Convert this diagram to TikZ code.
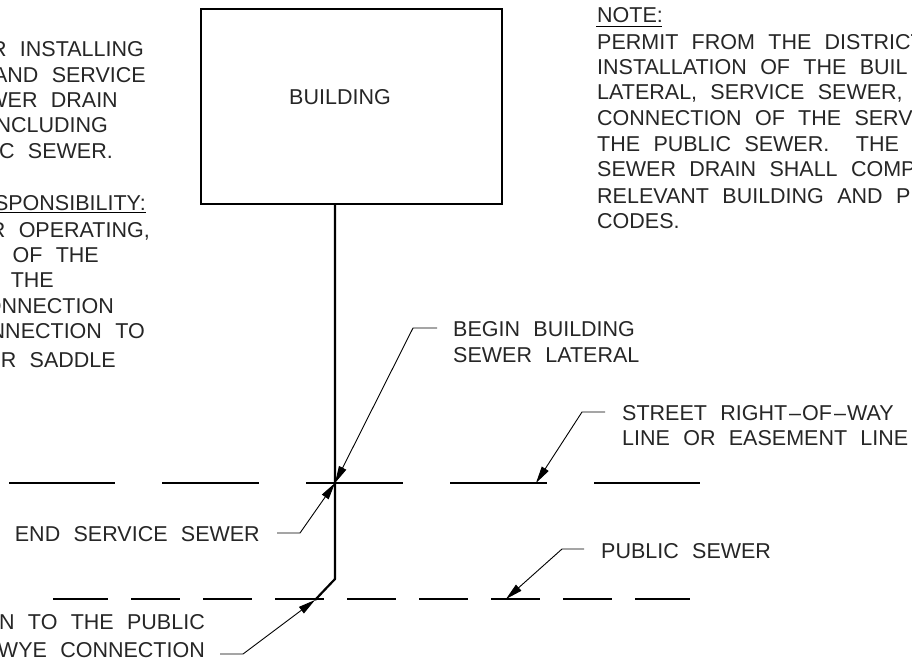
\documentclass[tikz,border=0pt]{standalone}
\usepackage{fontspec}
\setmainfont{Liberation Sans}
\usetikzlibrary{arrows.meta}
\tikzset{
 note/.style={inner sep=0pt,font=\fontsize{21.5}{21.5}\selectfont,text=black!85,anchor=base west},
 noter/.style={note,anchor=base east},
 wall/.style={line width=2.2pt,black},
 pipe/.style={line width=1.6pt,black},
 rulel/.style={line width=0.9pt,black},
 lead/.style={line width=0.9pt,black,-{Triangle[length=17pt,width=8pt]}}
}
\newcommand{\wsp}{\hspace{0.62em}}
\newcommand{\dsh}{\kern2pt--\kern1pt}
\begin{document}
\begin{tikzpicture}[x=1pt,y=-1pt]
\useasboundingbox (0,0) rectangle (912,663);
\clip (0,0) rectangle (912,663);
\fill[white] (0,0) rectangle (912,663);
\node[draw,wall,inner sep=0pt] (bldg) at (351.5,106.5) {\rule{0pt}{195pt}\rule{301pt}{0pt}};
\node[note,anchor=base] (bl) at (340,105) {BUILDING};
% left notes
\node[noter] (l1) at (144,57) {R\wsp INSTALLING};
\node[noter] (l2) at (146,83) {AND\wsp SERVICE};
\node[noter] (l3) at (118,108) {WER\wsp DRAIN};
\node[noter] (l4) at (108,133) {NCLUDING};
\node[noter] (l5) at (113,159) {C\wsp SEWER.};
\node[noter] (l6) at (146,210) {SPONSIBILITY:};
\node[noter] (l7) at (150,237) {R\wsp OPERATING,};
\node[noter] (l8) at (99,262) {OF\wsp THE};
\node[noter] (l9) at (54,287) {THE};
\node[noter] (l10) at (114,313) {ONNECTION};
\node[noter] (l11) at (145,338) {NNECTION\wsp TO};
\node[noter] (l12) at (116,367) {R\wsp SADDLE};
\draw[rulel] (0,212.5) -- (146,212.5);
% right notes
\node[note] (r0) at (597,23) {NOTE:};
\draw[rulel] (596,26) -- (662,26);
\node[note] (r1) at (597,50) {PERMIT\wsp FROM\wsp THE\wsp DISTRICT};
\node[note] (r2) at (597,75) {INSTALLATION\wsp OF\wsp THE\wsp BUIL};
\node[note] (r3) at (597,100) {LATERAL,\wsp SERVICE\wsp SEWER,};
\node[note] (r4) at (597,126) {CONNECTION\wsp OF\wsp THE\wsp SERV};
\node[note] (r5) at (597,152) {THE\wsp PUBLIC\wsp SEWER.\wsp\wsp THE};
\node[note] (r6) at (597,177) {SEWER\wsp DRAIN\wsp SHALL\wsp COMP};
\node[note] (r7) at (597,203) {RELEVANT\wsp BUILDING\wsp AND\wsp P};
\node[note] (r8) at (597,228) {CODES.};
% labels
\node[note] (a1) at (453,336) {BEGIN\wsp BUILDING};
\node[note] (a2) at (453,362) {SEWER\wsp LATERAL};
\node[note] (b1) at (622,420) {STREET\wsp RIGHT\dsh OF\dsh WAY};
\node[note] (b2) at (622,445) {LINE\wsp OR\wsp EASEMENT\wsp LINE};
\node[noter] (c1) at (260,541.5) {END\wsp SERVICE\wsp SEWER};
\node[note] (d1) at (601,558) {PUBLIC\wsp SEWER};
\node[noter] (e1) at (205,629) {N\wsp TO\wsp THE\wsp PUBLIC};
\node[noter] (e2) at (205,657) {WYE\wsp CONNECTION};
% coordinates
\coordinate (top) at (335,204);
\coordinate (bend) at (335,579);
\coordinate (wye) at (315,600);
\coordinate (hit) at (335,483);
\coordinate (row) at (536,483);
\coordinate (pub) at (506,599);
% pipe
\draw[wall,line join=round] (top) -- (bend) -- (wye);
% dashed lines
\foreach \a/\b in {9/115,162/259,306/403,450/547,594/700} \draw[pipe] (\a,483) -- (\b,483);
\foreach \a/\b in {53/108,131/180,203/252,275/324,347/396,419/468,491/540,563/612,635/690} \draw[rulel,line width=1.1pt] (\a,599) -- (\b,599);
% leaders
\draw[lead] (437,328) -- (413,328) -- (hit);
\draw[lead] (605,412) -- (582,412) -- (row);
\draw[lead] (584,549) -- (562,549) -- (pub);
\draw[lead] (277,533) -- (300,533) -- (hit);
\draw[lead] (220,654) -- (243,654) -- (wye);
\end{tikzpicture}
\end{document}
